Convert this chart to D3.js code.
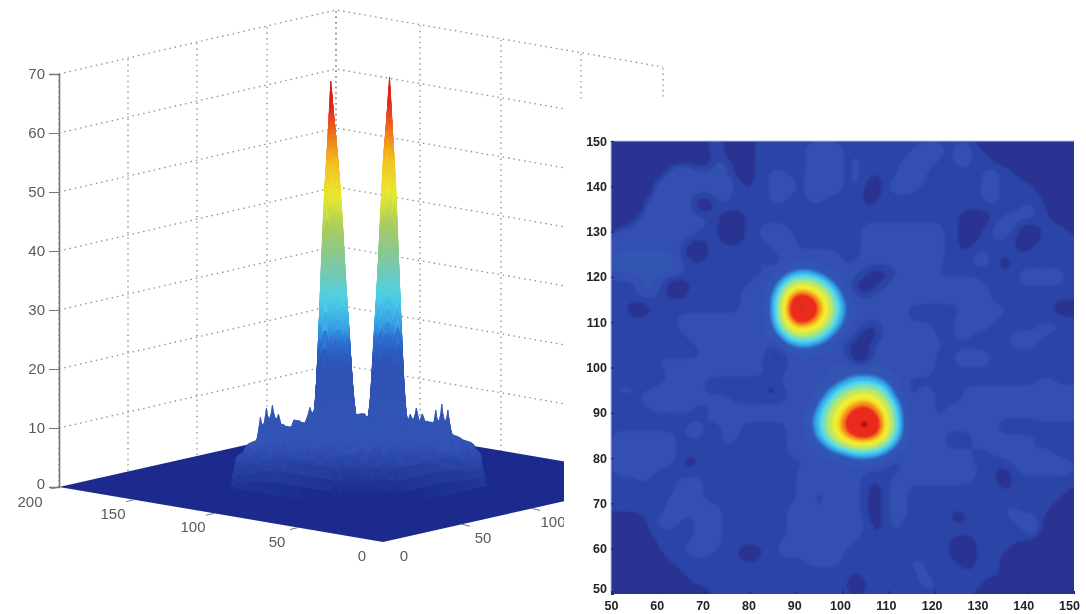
<!DOCTYPE html>
<html>
<head>
    <meta charset="utf-8">
    <title>Surface and contour</title>
    <script src="https://d3js.org/d3.v7.min.js"></script>
    <style>
        body { margin: 0; background: #fff; }
        text { font-family: "Liberation Sans", Arial, sans-serif; }
        .axis3d text { font-size: 15px; fill: #5a5a5a; }
        .axis3d path, .axis3d line { stroke: #777; }
        .axis2d text { font-size: 12.5px; font-weight: 700; fill: #222; }
        .axis2d path { stroke: none; }
        .axis2d line { stroke: #1c2470; }
    </style>
</head>
<body>
    <div id="chart"></div>

    <script>
        // axis values
        const zTicks = [0, 10, 20, 30, 40, 50, 60, 70];
        const floorTicks = [0, 50, 100, 150, 200];
        const rightYTicks = [0, 50, 100];
        const planTicks = [50, 60, 70, 80, 90, 100, 110, 120, 130, 140, 150];

        // heights, one char per node in base 36, value = 2 x digit
        // rows go y = 151, 149 ... 49, columns x = 49, 51 ... 151
        const heightRowsWest = [
            "00000000000553334444444444", "00000000000553334444445555", "00000000003353334444445555",
            "00000005553355334444445555", "00000055555555334455445555", "00000555555555534455545555",
            "00000555555555444455545555", "00005555553355444455445544", "00005555553344444444444444",
            "00055555555543344444444444", "05555555555443344555444444", "55555555554443344555544444",
            "55555555533444444455544444", "56666666433444444445555555", "56666666544444545544566555",
            "56666666544444444456899765", "44446643344444445569fhge96", "4444664334444445557flnmjf9",
            "4444444444444445559iqusnib", "4443344444444445559jsyupjd", "4444444455555555559iqusnib",
            "4444444455555555557flnmjf9", "44444444455555555569fhge96", "44444444445555555546899765",
            "44445544444555555533566555", "44444455555555555444555556", "44444445555555555544555556",
            "44444445555444444445555567", "4555455555544444443455568b", "444455555555554444445557bg",
            "444445555544555555555569fj", "44444444444555555555557bgl", "44444444455445544444557bhm",
            "45555555455445544444556afk", "455555554444454444445557af", "45555555444444444444555567",
            "45555555434444444444445555", "45555544444444554444455555", "44445444555444444444455555",
            "44444444555444444444455455", "44444445555444444444455455", "44444445555554444444555455",
            "44444455545554444444555555", "00004455445554444444555555", "00004444445554444444555555",
            "00000444455554444445555555", "00000444455544433445555555", "00000044444444444444445555",
            "00000004444444444444444444", "00000000444444444444444444", "00000000044444445544444444",
            "00000000000444444444444444"
        ];
        const heightRowsEast = [
            "44444444444444400000000000", "44444444555455440000000000", "45444445555455444000000000",
            "45444455554455444440000000", "45444455544444455444000000", "45434555544444455444400000",
            "45334555444455455445540000", "45344444444444455444444000", "44444444444444444445544000",
            "44444444444443334555544400", "44555555555443345553344440", "44555555555443445543344554",
            "44555555555443444443444444", "44555555455444554444444444", "45555555555444554344444444",
            "55433455554444444445555544", "54334555555555544445555544", "53345555555555554444444444",
            "75555555555555554444444444", "75555554444445555544444333", "75555554444455555445444444",
            "65435555554455554444455544", "54335555554455444455554444", "43355555555444444455544444",
            "43355555554455554444444444", "53355555554455554444444444", "67776555554444444444444444",
            "9bba8654444444444444455444", "fghgd754554445555555555555", "jlmkha64554445555555555555",
            "nqroke74554555555555555555", "qtvsmf84554555555555555555", "rvytng84555555555333344444",
            "orsqle75555444555555554444", "ikkjf965555444555555444444", "9bba8655555555445555555444",
            "56665445555555444455555554", "55444455555555544345555554", "55444555555555444344444444",
            "55434554444444444444444444", "55434554444444444434444440", "55434554444444444554444400",
            "55434554444434444455544000", "55534544444444444445550000", "55444454444444444444550000",
            "54444444444433444444400000", "44444444444433444440000000", "44444445544443444400000000",
            "44444444544444444400000000", "43444444554444444400000000", "43444444454444440000000000",
            "44444444444444400000000000"
        ];

        // bumps on the back rim of the surface: node x, node y, height
        const ridgeX = [149, 147, 145, 143, 147, 145, 143, 141, 101, 99, 97, 89, 87, 85, 83];
        const ridgeY = [87, 89, 91, 93, 121, 123, 123, 125, 141, 143, 145, 145, 147, 149, 147];
        const ridgeZ = [9, 10.5, 11, 9.5, 9, 10, 10.5, 9, 9, 10, 9, 10, 11, 10, 9];

        // contour bands of the flat map
        const bandLevels = [7.6, 9, 11, 16, 18, 22, 26, 31, 37, 43, 46, 50, 62, 66];
        const bandColors = ["#2c45a7", "#3050b1", "#3354b4", "#2f80d8", "#38aeea", "#4fd8ee", "#7fe0b0",
            "#c0e860", "#f0ee30", "#f8c820", "#f58a1c", "#e92a1e", "#b01018", "#6c1014"];

        // colour ramp of the surface
        const surfaceLevels = [0, 20, 24, 26, 31, 37, 43, 48, 54, 58, 63, 70];
        const surfaceColors = ["#2c48aa", "#2d55b8", "#2f6fd0", "#35a0e6", "#4fd0e6", "#82c8a0",
            "#a8cc60", "#e8ea30", "#f3c020", "#f08020", "#e42a20", "#b81a1a"];

        const nx = 52, ny = 52;
        const heights = [];
        heightRowsWest.forEach((row, i) => {
            Array.from(row + heightRowsEast[i]).forEach(c => heights.push(parseInt(c, 36) * 2));
        });
        const heightAt = (i, j) => heights[i * nx + j];
        const nodeX = j => 49 + 2 * j;
        const nodeY = i => 151 - 2 * i;

        const svg = d3.select("#chart")
            .append("svg")
            .attr("width", 1086)
            .attr("height", 614);

        const defs = svg.append("defs");
        defs.append("filter").attr("id", "soft").append("feGaussianBlur").attr("stdDeviation", 1);
        defs.append("filter").attr("id", "softer").append("feGaussianBlur").attr("stdDeviation", 0.45);
        // the map sits on a white sheet that hides the right of the 3d box
        defs.append("clipPath").attr("id", "box-clip").append("path")
            .attr("d", "M0,0H1086V100H564V614H0Z");
        defs.append("clipPath").attr("id", "plan-clip").append("rect")
            .attr("x", 611).attr("y", 141).attr("width", 463).attr("height", 453);

        // ---------- 3d box ----------
        const box = svg.append("g").attr("clip-path", "url(#box-clip)");

        const zAxisY = d3.scaleLinear().domain([0, 70]).range([487, 74]);
        const pxPerZ = (zAxisY(0) - zAxisY(70)) / 70;
        const floorU = d3.scaleLinear().domain(floorTicks).range([0, 85, 169, 249, 324]);
        const floorV = d3.scaleLinear().domain(floorTicks).range([0, 79, 149, 216, 282]);
        const project = (x, y, z) => [
            383 - floorU(x) + floorV(y),
            542 - 0.17 * floorU(x) - 0.225 * floorV(y) - pxPerZ * z
        ];

        // back walls, dotted
        const wallLeftX = d3.scaleLinear().domain(floorTicks).range([59, 128, 197, 267, 336]);
        const wallRightX = d3.scaleLinear().domain(floorTicks).range([663, 581, 501, 420, 336]);
        const wallLeftFloor = d3.scaleLinear().domain([0, 200]).range([487, 423]);
        const wallRightFloor = d3.scaleLinear().domain([0, 200]).range([480, 423]);
        const grid = box.append("g")
            .attr("fill", "none")
            .attr("stroke", "#888")
            .attr("stroke-width", 1.3)
            .attr("stroke-dasharray", "1.4 4")
            .attr("filter", "url(#softer)");
        const rise = z => pxPerZ * z;
        zTicks.filter(z => z > 0).forEach(z => {
            grid.append("path").attr("d", d3.line()([
                [wallLeftX(0), wallLeftFloor(0) - rise(z)],
                [wallLeftX(200), wallLeftFloor(200) - rise(z)],
                [wallRightX(0), wallRightFloor(0) - rise(z)]
            ]));
        });
        floorTicks.forEach(t => {
            grid.append("line")
                .attr("x1", wallLeftX(t)).attr("x2", wallLeftX(t))
                .attr("y1", wallLeftFloor(t)).attr("y2", wallLeftFloor(t) - rise(70));
            grid.append("line")
                .attr("x1", wallRightX(t)).attr("x2", wallRightX(t))
                .attr("y1", wallRightFloor(t)).attr("y2", wallRightFloor(t) - rise(70));
        });

        // floor
        const navy = "#1d2b8d";
        const surface = box.append("g").attr("filter", "url(#softer)");
        surface.append("polygon")
            .attr("points", [project(0, 0, 0), project(200, 0, 0), project(200, 200, 0), project(0, 200, 0)].join(" "))
            .attr("fill", navy);

        // the spikes on the surface come out thinner than on the map
        const meshHeight = d3.scaleLinear().domain([0, 12, 20, 36, 50, 68]).range([0, 9, 15, 30, 48, 68]);
        const ridge = new Map(ridgeX.map((x, k) => [x + "," + ridgeY[k], ridgeZ[k]]));
        // the rim drops away at the far left and right of the disc
        const rimTaper = d3.scaleLinear().domain([85, 128]).range([1, 0.45]).clamp(true);
        const meshAt = (i, j) => {
            if (i < 0 || j < 0 || i >= ny || j >= nx) return 0;
            const x = nodeX(j), y = nodeY(i);
            const key = x + "," + y;
            if (ridge.has(key)) return ridge.get(key);
            const side = Math.abs(project(x, y, 0)[0] - 366);
            return meshHeight(heightAt(i, j)) * rimTaper(side);
        };

        // surface quads, split finer where the cell is steep so the colours stay smooth
        const surfaceShiftX = -6;
        const surfaceColor = d3.scaleLinear().domain(surfaceLevels).range(surfaceColors).clamp(true);
        const quads = [];
        for (let i = -1; i < ny; i++) {
            for (let j = -1; j < nx; j++) {
                const h00 = meshAt(i, j), h01 = meshAt(i, j + 1);
                const h10 = meshAt(i + 1, j), h11 = meshAt(i + 1, j + 1);
                const top = Math.max(h00, h01, h10, h11);
                const low = Math.min(h00, h01, h10, h11);
                if (top === 0) continue;
                const n = top > 12 ? 6 : (top - low > 3 ? 3 : 1);
                for (let a = 0; a < n; a++) {
                    for (let b = 0; b < n; b++) {
                        const at = (u, v) => {
                            const h = (h00 * (1 - u) + h01 * u) * (1 - v) + (h10 * (1 - u) + h11 * u) * v;
                            const x = nodeX(j) + 2 * u, y = nodeY(i) - 2 * v;
                            const p = project(x, y, h);
                            return { x, y, z: h, px: p[0] + surfaceShiftX, py: p[1] };
                        };
                        const corners = [at(a / n, b / n), at((a + 1) / n, b / n),
                            at((a + 1) / n, (b + 1) / n), at(a / n, (b + 1) / n)];
                        quads.push({
                            corners,
                            depth: d3.mean(corners, c => c.x + c.y),
                            z: d3.mean(corners, c => c.z),
                            py: d3.mean(corners, c => c.py)
                        });
                    }
                }
            }
        }
        quads.sort((p, q) => q.depth - p.depth);

        // low parts of the disc fade to navy towards the viewer, high parts follow the ramp
        const fade = d3.scaleLinear().domain([498, 445]).range([0, 1]).clamp(true);
        const toRamp = d3.scaleLinear().domain([12, 22]).range([0, 1]).clamp(true);
        const shadeOf = d => {
            const body = d3.interpolateRgb(navy, "#3355b5")(fade(d.py));
            return d3.interpolateRgb(body, surfaceColor(d.z))(toRamp(d.z));
        };
        surface.selectAll(".quad")
            .data(quads)
            .join("polygon")
            .attr("class", "quad")
            .attr("points", d => d.corners.map(c => [c.px, c.py]).join(" "))
            .attr("fill", shadeOf)
            .attr("stroke", shadeOf)
            .attr("stroke-width", 0.4);

        // z axis
        const axisZ = svg.append("g")
            .attr("class", "axis3d")
            .attr("transform", "translate(59,0)")
            .attr("filter", "url(#softer)")
            .call(d3.axisLeft(zAxisY).tickValues(zTicks).tickSize(10).tickPadding(4).tickFormat(d3.format("d")));
        axisZ.select("path").attr("stroke-width", 1.6);
        axisZ.selectAll("text").filter(d => d === 0).attr("dy", "0.12em");

        // floor axes, labels drop below the front edges
        const floorAxes = box.append("g").attr("class", "axis3d").attr("filter", "url(#softer)");
        floorTicks.slice(1).forEach(t => {
            const p = project(t, 0, 0);
            floorAxes.append("line")
                .attr("x1", p[0]).attr("y1", p[1]).attr("x2", p[0] - 8).attr("y2", p[1] + 2)
                .attr("stroke-width", 1);
        });
        floorTicks.forEach(t => {
            const p = project(t, 0, 0);
            floorAxes.append("text")
                .attr("x", p[0] - (t === 200 ? 29 : 21))
                .attr("y", p[1] + (t === 200 ? 20 : 19))
                .attr("text-anchor", "middle")
                .text(t);
        });
        rightYTicks.forEach(t => {
            const p = project(0, t, 0);
            if (t > 0) {
                floorAxes.append("line")
                    .attr("x1", p[0]).attr("y1", p[1]).attr("x2", p[0] + 8).attr("y2", p[1] + 2)
                    .attr("stroke-width", 1);
            }
            floorAxes.append("text")
                .attr("x", p[0] + 21)
                .attr("y", p[1] + 19)
                .attr("text-anchor", "middle")
                .text(t);
        });

        // ---------- flat map ----------
        const planX = d3.scaleLinear().domain([50, 150]).range([611, 1074]);
        const planY = d3.scaleLinear().domain([50, 150]).range([594, 141]);

        // resample the nodes three times finer and round off the low ground, so the
        // bands read as soft shapes and not as grid steps; the peaks keep their height
        const fine = 3;
        const fx = (nx - 1) * fine + 1, fy = (ny - 1) * fine + 1;
        const lowGround = new Float64Array(fx * fy), peaks = new Float64Array(fx * fy);
        for (let gy = 0; gy < fy; gy++) {
            for (let gx = 0; gx < fx; gx++) {
                const i = Math.min(Math.floor(gy / fine), ny - 2), j = Math.min(Math.floor(gx / fine), nx - 2);
                const u = gx / fine - j, v = gy / fine - i;
                const h = (heightAt(i, j) * (1 - u) + heightAt(i, j + 1) * u) * (1 - v)
                    + (heightAt(i + 1, j) * (1 - u) + heightAt(i + 1, j + 1) * u) * v;
                lowGround[gy * fx + gx] = Math.min(h, 14);
                peaks[gy * fx + gx] = Math.max(h - 14, 0);
            }
        }
        d3.blur2({ data: lowGround, width: fx, height: fy }, 1.2);
        d3.blur2({ data: peaks, width: fx, height: fy }, 0.8);
        const fineHeights = Array.from(lowGround, (h, k) => h + peaks[k]);

        const contours = d3.contours()
            .size([fx, fy])
            .thresholds(bandLevels)(fineHeights);
        const toPlan = d3.geoTransform({
            point(x, y) {
                this.stream.point(planX(49 + 2 * (x - 0.5) / fine), planY(151 - 2 * (y - 0.5) / fine));
            }
        });
        const planPath = d3.geoPath(toPlan);
        const bandColor = d3.scaleOrdinal().domain(bandLevels).range(bandColors);

        svg.append("rect")
            .attr("x", 611).attr("y", 141).attr("width", 463).attr("height", 453)
            .attr("fill", "#2a3391");
        svg.append("g")
            .attr("clip-path", "url(#plan-clip)")
            .append("g")
            .attr("filter", "url(#soft)")
            .selectAll("path")
            .data(contours)
            .join("path")
            .attr("d", planPath)
            .attr("fill", d => bandColor(d.value));
        svg.append("path")
            .attr("d", "M611,594V141H1074")
            .attr("fill", "none")
            .attr("stroke", "#aebde6")
            .attr("stroke-width", 1);

        const axisLeft = svg.append("g")
            .attr("class", "axis2d")
            .attr("transform", "translate(611,0)")
            .attr("filter", "url(#softer)")
            .call(d3.axisLeft(planY).tickValues(planTicks).tickSizeInner(-3).tickSizeOuter(0).tickPadding(4));
        axisLeft.selectAll("text").attr("dy", d => d === 50 ? "-0.15em" : "0.32em");

        const axisBottom = svg.append("g")
            .attr("class", "axis2d")
            .attr("transform", "translate(0,594)")
            .attr("filter", "url(#softer)")
            .call(d3.axisBottom(planX).tickValues(planTicks).tickSizeInner(-3).tickSizeOuter(0).tickPadding(7));
        axisBottom.selectAll("text").attr("dx", d => -(d - 50) * 0.05);
    </script>
</body>
</html>
